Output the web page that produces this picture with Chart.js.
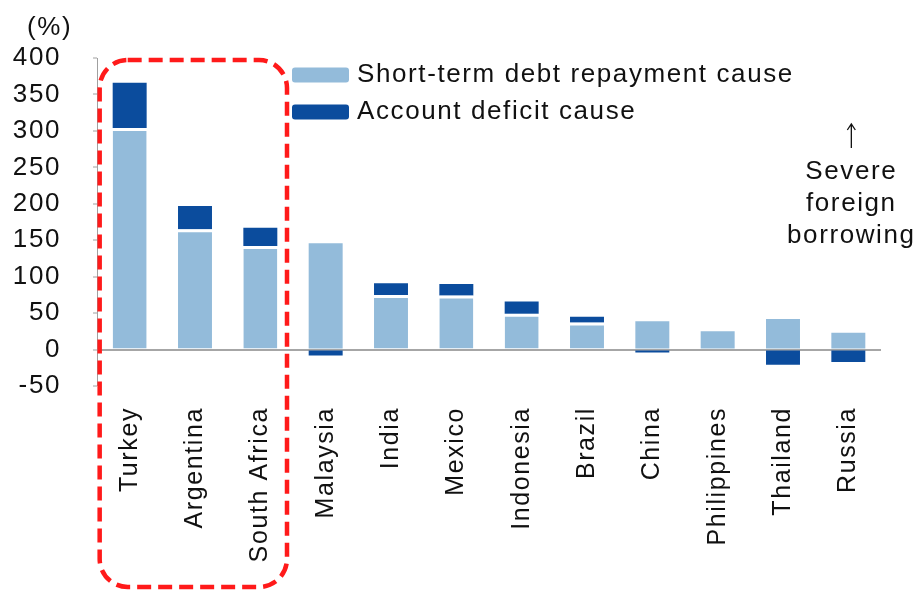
<!DOCTYPE html>
<html>
<head>
<meta charset="utf-8">
<script src="https://cdn.jsdelivr.net/npm/chart.js@4"></script>
<style>
  html, body { margin: 0; padding: 0; background: #fff; }
  canvas { display: block; }
</style>
</head>
<body>
<canvas id="myChart" width="916" height="592"></canvas>
<script>
const countries = ['Turkey', 'Argentina', 'South Africa', 'Malaysia', 'India', 'Mexico',
                   'Indonesia', 'Brazil', 'China', 'Philippines', 'Thailand', 'Russia'];
const shortTermDebt = [304, 165, 142, 146, 75, 74, 49, 37, 39, 25, 42, 23];
const accountDeficit = [62, 32, 25, -8, 16, 16, 17, 8, -4, 0, -21, -17];
const seriesNames = ['Short-term debt repayment cause', 'Account deficit cause'];
const yMin = -50, yMax = 400, yStep = 50;
const unitLabel = '(%)';
const noteLines = ['Severe', 'foreign', 'borrowing'];
const highlighted = 3; // first three countries get the dashed frame

const FONT = "'Liberation Sans', Arial, sans-serif";
const SPACING = '1.6px';

// wider text like the original report font
const spacingPlugin = {
    id: 'spacing',
    beforeLayout(chart) { chart.ctx.letterSpacing = SPACING; },
    beforeDraw(chart) { chart.ctx.letterSpacing = SPACING; }
};

const extrasPlugin = {
    id: 'extras',
    afterDraw(chart) {
        const ctx = chart.ctx;
        const x = chart.scales.x, y = chart.scales.y;
        ctx.save();
        ctx.letterSpacing = SPACING;
        ctx.fillStyle = '#111';
        ctx.font = '26px ' + FONT;

        // unit label
        ctx.textAlign = 'left';
        ctx.textBaseline = 'middle';
        ctx.fillText(unitLabel, 27, 28);

        // legend
        chart.data.datasets.forEach((ds, i) => {
            const cy = 75 + i * 37;
            ctx.fillStyle = ds.backgroundColor;
            ctx.beginPath();
            ctx.roundRect(292, cy - 7.5, 57, 15, 3);
            ctx.fill();
            ctx.fillStyle = '#111';
            ctx.fillText(ds.label, 357, cy);
        });

        // note on the right, with a thin up arrow
        ctx.textAlign = 'center';
        const nx = x.getPixelForValue(countries.length - 1) + 3;
        noteLines.forEach((t, i) => {
            ctx.fillText(t, nx, 172 + i * 32);
        });
        ctx.strokeStyle = '#111';
        ctx.lineWidth = 1.3;
        ctx.beginPath();
        ctx.moveTo(nx, 124);
        ctx.lineTo(nx, 148);
        ctx.moveTo(nx - 4, 130);
        ctx.lineTo(nx, 124);
        ctx.lineTo(nx + 4, 130);
        ctx.stroke();

        // dashed frame around the first group
        const left = x.getPixelForValue(0) - 30;
        const right = (x.getPixelForValue(highlighted - 1) + x.getPixelForValue(highlighted)) / 2 - 6;
        const top = y.getPixelForValue(yMax) + 2;
        const bottom = chart.height - 5;
        ctx.strokeStyle = '#ff1a1a';
        ctx.lineWidth = 4.5;
        ctx.setLineDash([14, 7]);
        ctx.beginPath();
        ctx.roundRect(left, top, right - left, bottom - top, 28);
        ctx.stroke();
        ctx.restore();
    }
};

const ctx = document.getElementById('myChart').getContext('2d');
const chart = new Chart(ctx, {
    type: 'bar',
    data: {
        labels: countries,
        datasets: [{
            label: seriesNames[0],
            data: shortTermDebt,
            backgroundColor: '#93bbda',
            borderColor: '#ffffff',
            // white gap only where a positive deficit bar sits on top
            borderWidth: c => ({ top: accountDeficit[c.dataIndex] > 0 ? 3 : 0, left: 0, right: 0, bottom: 0 }),
            borderSkipped: false
        }, {
            label: seriesNames[1],
            data: accountDeficit,
            backgroundColor: '#0b4c9d',
            borderWidth: 0
        }]
    },
    options: {
        responsive: false,
        animation: false,
        barPercentage: 0.52,
        categoryPercentage: 1,
        layout: { padding: { top: 58, right: 35, left: 0, bottom: 0 } },
        plugins: {
            legend: { display: false },
            tooltip: { enabled: false }
        },
        scales: {
            x: {
                stacked: true,
                grid: { display: false },
                border: { display: false },
                ticks: {
                    minRotation: 90,
                    maxRotation: 90,
                    padding: 13,
                    color: '#111',
                    font: { family: FONT, size: 25 }
                },
                afterFit(scale) { scale.height = 206; }
            },
            y: {
                stacked: true,
                min: yMin,
                max: yMax,
                ticks: {
                    stepSize: yStep,
                    padding: 32,
                    color: '#111',
                    font: { family: FONT, size: 26 }
                },
                grid: {
                    color: c => c.tick && c.tick.value === 0 ? '#a6a6a6' : 'rgba(0,0,0,0)',
                    lineWidth: c => c.tick && c.tick.value === 0 ? 2 : 0,
                    tickColor: '#a0a0a0',
                    tickLength: 4,
                    tickWidth: 1
                },
                border: { color: '#a0a0a0', width: 1 },
                afterFit(scale) { scale.width = 97; }
            }
        }
    },
    plugins: [spacingPlugin, extrasPlugin]
});
</script>
</body>
</html>
